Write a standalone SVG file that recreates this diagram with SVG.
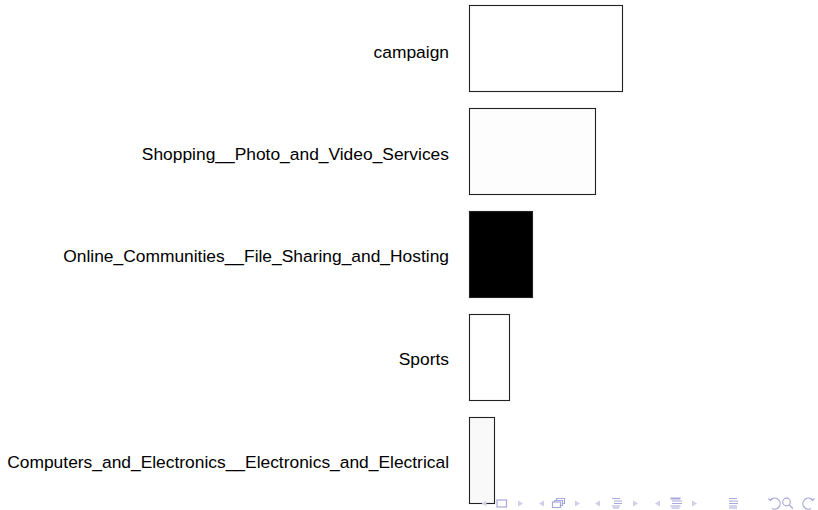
<svg xmlns="http://www.w3.org/2000/svg" width="818" height="510" viewBox="0 0 818 510">
<style>
.lbl{font-family:"Liberation Sans",Arial,sans-serif;font-size:17.4px;fill:#000;text-anchor:end}
.bar{stroke:#222;stroke-width:1.1}
.nav{fill:#cfcfec;stroke:none}
.navs{fill:none;stroke:#a8a8da;stroke-width:1.2}
.navf{fill:#a8a8da}
</style>
<rect width="818" height="510" fill="#fff"/>
<g id="bar-campaign">
<rect class="bar" x="469.5" y="5.5" width="153" height="86" fill="#ffffff"/>
<text class="lbl" x="449" y="57.5">campaign</text>
</g>
<g id="bar-shopping">
<rect class="bar" x="469.5" y="108.5" width="126" height="86" fill="#fdfdfd"/>
<text class="lbl" x="449" y="160">Shopping__Photo_and_Video_Services</text>
</g>
<g id="bar-online">
<rect class="bar" x="469.5" y="211.5" width="63" height="86" fill="#000000"/>
<text class="lbl" x="449" y="262">Online_Communities__File_Sharing_and_Hosting</text>
</g>
<g id="bar-sports">
<rect class="bar" x="469.5" y="314.5" width="40" height="86" fill="#ffffff"/>
<text class="lbl" x="449" y="364.5">Sports</text>
</g>
<g id="bar-computers">
<rect class="bar" x="469.5" y="417.5" width="25" height="86" fill="#f9f9f9"/>
<text class="lbl" x="449" y="468">Computers_and_Electronics__Electronics_and_Electrical</text>
</g>
<g id="navigation">
<polygon class="nav" points="481.5,503.5 486.5,500.5 486.5,506.5"/>
<rect class="navs" x="497" y="500" width="9.5" height="7"/>
<polygon class="nav" points="518,500.5 518,506.5 523,503.5"/>
<polygon class="nav" points="539,503.5 544,500.5 544,506.5"/>
<rect class="navs" x="552.5" y="502" width="8" height="5.5"/>
<path class="navs" d="M554.5,502 V500.5 H562.5 V505.5 H560.5 M556.5,500.5 V498.5 H564.5 V503.5 H562.5"/>
<polygon class="nav" points="575,500.5 575,506.5 580,503.5"/>
<polygon class="nav" points="595,503.5 600,500.5 600,506.5"/>
<path class="navs" d="M612,498.5 H620 M614,501 H622 M614,503.5 H622 M612,506 H620 M613,508 H619"/>
<polygon class="nav" points="633,500.5 633,506.5 638,503.5"/>
<polygon class="nav" points="655,503.5 660,500.5 660,506.5"/>
<path class="navs" d="M672,501 H682 M672,503.5 H682 M670.5,506 H680.5 M671.5,508 H679.5"/>
<rect class="navf" x="670.5" y="497.5" width="10" height="2"/>
<polygon class="nav" points="692,500.5 692,506.5 697,503.5"/>
<path class="navs" d="M729,498.5 H737 M729,501 H738 M729,503.5 H738 M729,506 H737 M729,508 H737"/>
<path class="navs" d="M770.5,500 A5.5,5.5 0 1 1 772,508.5 M768.5,498.5 L770.5,500.5 L772.5,498.5"/>
<circle class="navs" cx="786.5" cy="502" r="3.8"/>
<path class="navs" d="M789,504.8 L793,508.5"/>
<path class="navs" d="M812.5,500 A5.5,5.5 0 1 0 811,508.5 M814.5,498.5 L812.5,500.5 L810.5,498.5"/>
</g>
</svg>
